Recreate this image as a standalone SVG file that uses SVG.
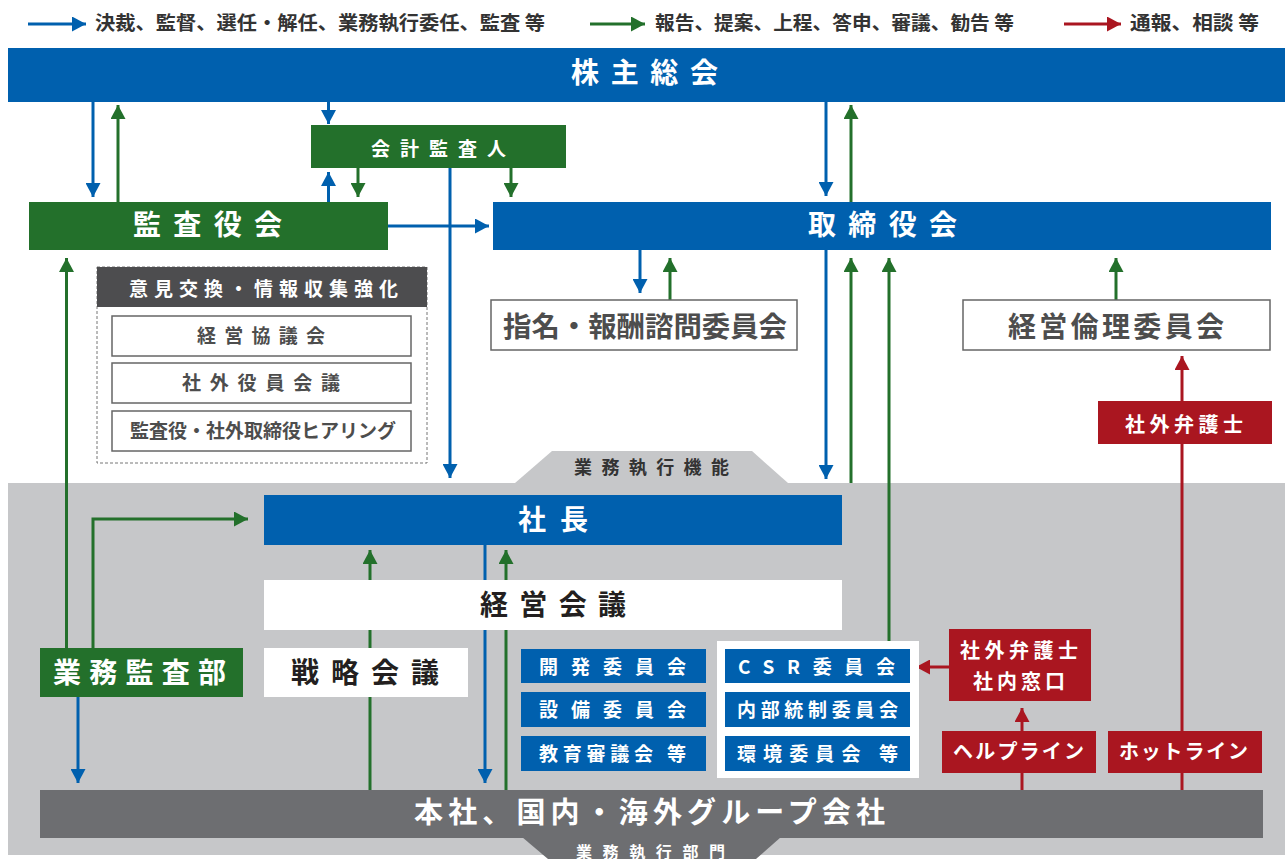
<svg xmlns="http://www.w3.org/2000/svg" width="1285" height="859" viewBox="0 0 1285 859">
<defs>
<style>
text{font-family:"Noto Sans CJK JP","Noto Sans CJK SC",sans-serif;font-weight:700;}
.w{fill:#fff;}
.d{fill:#333;}
.g4{fill:#4d4d4d;}
.k{fill:#231f20;}
.blue{fill:#0060ae;}
.green{fill:#23702b;}
.red{fill:#aa1620;}
.lb{stroke:#0060ae;stroke-width:3;fill:none;marker-end:url(#ab);}
.lg{stroke:#23702b;stroke-width:3;fill:none;marker-end:url(#ag);}
.lr{stroke:#aa1620;stroke-width:3;fill:none;marker-end:url(#ar);}
.lgn{stroke:#23702b;stroke-width:3;fill:none;}
.lrn{stroke:#aa1620;stroke-width:3;fill:none;}
.box{fill:#fff;stroke:#666;stroke-width:1.5;}
</style>
<marker id="ab" markerUnits="userSpaceOnUse" markerWidth="15" markerHeight="15" refX="14" refY="7.5" orient="auto"><path d="M0,0 L14,7.5 L0,15 Z" fill="#0060ae"/></marker>
<marker id="ag" markerUnits="userSpaceOnUse" markerWidth="15" markerHeight="15" refX="14" refY="7.5" orient="auto"><path d="M0,0 L14,7.5 L0,15 Z" fill="#23702b"/></marker>
<marker id="ar" markerUnits="userSpaceOnUse" markerWidth="15" markerHeight="15" refX="14" refY="7.5" orient="auto"><path d="M0,0 L14,7.5 L0,15 Z" fill="#aa1620"/></marker>
</defs>
<rect width="1285" height="859" fill="#fff"/>
<!-- execution area background -->
<rect x="8" y="483" width="1277" height="372" fill="#c6c7c9"/>
<g id="tab-exec">
<polygon points="515,483 552,451 752,451 788,483" fill="#c6c7c9"/>
<text class="d" x="574" y="473.5" font-size="18" textLength="155" lengthAdjust="spacing">業務執行機能</text>
</g>
<g id="legend">
<line x1="28" y1="24" x2="86" y2="24" class="lb"/>
<text class="d" x="95" y="30" font-size="19" font-weight="500" textLength="450" lengthAdjust="spacingAndGlyphs">決裁、監督、選任・解任、業務執行委任、監査 等</text>
<line x1="590" y1="24" x2="645" y2="24" class="lg"/>
<text class="d" x="655" y="30" font-size="19" font-weight="500" textLength="359" lengthAdjust="spacingAndGlyphs">報告、提案、上程、答申、審議、勧告 等</text>
<line x1="1064" y1="24" x2="1121" y2="24" class="lr"/>
<text class="d" x="1130" y="30" font-size="19" font-weight="500" textLength="129" lengthAdjust="spacingAndGlyphs">通報、相談 等</text>
</g>
<g id="connectors">
<line x1="93" y1="102" x2="93" y2="197" class="lb"/>
<line x1="118" y1="202" x2="118" y2="105" class="lg"/>
<line x1="328.5" y1="102" x2="328.5" y2="124" class="lb"/>
<line x1="328.5" y1="202" x2="328.5" y2="172" class="lb"/>
<line x1="358" y1="168" x2="358" y2="197" class="lg"/>
<line x1="511" y1="168" x2="511" y2="197" class="lg"/>
<line x1="450" y1="168" x2="450" y2="478" class="lb"/>
<line x1="388" y1="226" x2="489" y2="226" class="lb"/>
<line x1="826" y1="102" x2="826" y2="196" class="lb"/>
<line x1="851" y1="202" x2="851" y2="105" class="lg"/>
<line x1="640" y1="250" x2="640" y2="293" class="lb"/>
<line x1="670" y1="300" x2="670" y2="258" class="lg"/>
<line x1="1116" y1="300" x2="1116" y2="258" class="lg"/>
<line x1="826" y1="250" x2="826" y2="479" class="lb"/>
<line x1="851" y1="483" x2="851" y2="258" class="lg"/>
<line x1="889" y1="641" x2="889" y2="258" class="lg"/>
<line x1="66.5" y1="648" x2="66.5" y2="258" class="lg"/>
<polyline points="93,648 93,519 248,519" class="lg"/>
<line x1="78" y1="697" x2="78" y2="783" class="lb"/>
<line x1="370" y1="790" x2="370" y2="550" class="lg"/>
<line x1="485" y1="545" x2="485" y2="783" class="lb"/>
<line x1="506" y1="790" x2="506" y2="550" class="lg"/>
<line x1="1182" y1="401" x2="1182" y2="356" class="lr"/>
<line x1="1182" y1="731" x2="1182" y2="444" class="lrn"/>
<line x1="1182" y1="790" x2="1182" y2="773" class="lrn"/>
<line x1="949" y1="667" x2="916" y2="667" class="lr"/>
<line x1="1022" y1="731" x2="1022" y2="708" class="lr"/>
<line x1="1022" y1="790" x2="1022" y2="773" class="lrn"/>
</g>
<g id="shareholders">
<rect x="8" y="48" width="1277" height="54" class="blue"/>
<text class="w" x="571" y="83" font-size="28" textLength="147" lengthAdjust="spacing">株主総会</text>
</g>
<g id="accounting-auditor">
<rect x="311" y="125" width="255" height="43" class="green"/>
<text class="w" x="371" y="155.5" font-size="19" font-weight="500" textLength="135" lengthAdjust="spacing">会計監査人</text>
</g>
<g id="audit-board">
<rect x="29" y="202" width="359" height="48" class="green"/>
<text class="w" x="133" y="235" font-size="28" textLength="149" lengthAdjust="spacing">監査役会</text>
</g>
<g id="board">
<rect x="493" y="202" width="778" height="48" class="blue"/>
<text class="w" x="808" y="235" font-size="28" textLength="149" lengthAdjust="spacing">取締役会</text>
</g>
<g id="nomination-committee">
<rect x="491" y="300" width="306" height="50" class="box"/>
<text class="g4" x="503" y="336.5" font-size="28" textLength="284" lengthAdjust="spacingAndGlyphs">指名・報酬諮問委員会</text>
</g>
<g id="ethics-committee">
<rect x="963" y="300" width="307" height="50" class="box"/>
<text class="g4" x="1008" y="336.5" font-size="28" textLength="216" lengthAdjust="spacing">経営倫理委員会</text>
</g>
<g id="info-exchange">
<rect x="97" y="267" width="330" height="196" fill="none" stroke="#777" stroke-width="1" stroke-dasharray="3,2"/>
<rect x="97" y="267" width="330" height="40" fill="#4d4d4f"/>
<text class="w" x="129" y="295.5" font-size="19" font-weight="500" textLength="269" lengthAdjust="spacing">意見交換・情報収集強化</text>
</g>
<g id="mgmt-council">
<rect x="112" y="316" width="299" height="40" class="box"/>
<text class="g4" x="197" y="343" font-size="19" textLength="128" lengthAdjust="spacing">経営協議会</text>
</g>
<g id="outside-officers">
<rect x="112" y="363" width="299" height="40" class="box"/>
<text class="g4" x="182" y="390" font-size="19" textLength="158" lengthAdjust="spacing">社外役員会議</text>
</g>
<g id="hearing">
<rect x="112" y="411" width="299" height="40" class="box"/>
<text class="g4" x="130" y="438" font-size="19" textLength="266" lengthAdjust="spacingAndGlyphs">監査役・社外取締役ヒアリング</text>
</g>
<g id="president">
<rect x="264" y="495" width="578" height="50" class="blue"/>
<text class="w" x="518" y="530" font-size="28" textLength="70" lengthAdjust="spacing">社長</text>
</g>
<g id="mgmt-meeting">
<rect x="264" y="580" width="578" height="50" fill="#fff"/>
<text class="k" x="480" y="615" font-size="28" textLength="146" lengthAdjust="spacing">経営会議</text>
</g>
<g id="strategy-meeting">
<rect x="264" y="648" width="204" height="49" fill="#fff"/>
<text class="k" x="291" y="683" font-size="28" textLength="148" lengthAdjust="spacing">戦略会議</text>
</g>
<g id="internal-audit">
<rect x="40" y="648" width="203" height="49" class="green"/>
<text class="w" x="53" y="683" font-size="28" textLength="173" lengthAdjust="spacing">業務監査部</text>
</g>
<g id="dev-committee">
<rect x="521" y="649" width="185" height="34" class="blue"/>
<text class="w" x="539" y="674" font-size="19" textLength="147" lengthAdjust="spacing">開発委員会</text>
</g>
<g id="equip-committee">
<rect x="521" y="692" width="185" height="35" class="blue"/>
<text class="w" x="539" y="716.5" font-size="19" textLength="147" lengthAdjust="spacing">設備委員会</text>
</g>
<g id="edu-council">
<rect x="521" y="736" width="185" height="35" class="blue"/>
<text class="w" x="539" y="760.5" font-size="19" textLength="147" lengthAdjust="spacing">教育審議会 等</text>
</g>
<g id="csr-group">
<rect x="717" y="641" width="202" height="137" fill="#fff"/>
</g>
<g id="csr-committee">
<rect x="725" y="649" width="185" height="34" class="blue"/>
<text class="w" x="738" y="674" font-size="19" font-weight="500" textLength="157" lengthAdjust="spacing">CSR委員会</text>
</g>
<g id="internal-control">
<rect x="725" y="692" width="185" height="35" class="blue"/>
<text class="w" x="737" y="716.5" font-size="19" textLength="161" lengthAdjust="spacing">内部統制委員会</text>
</g>
<g id="env-committee">
<rect x="725" y="736" width="185" height="35" class="blue"/>
<text class="w" x="737" y="760.5" font-size="19" textLength="161" lengthAdjust="spacing">環境委員会 等</text>
</g>
<g id="outside-lawyer">
<rect x="1098" y="401" width="174" height="43" class="red"/>
<text class="w" x="1125" y="432" font-size="20" textLength="118" lengthAdjust="spacing">社外弁護士</text>
</g>
<g id="lawyer-internal">
<rect x="949" y="629" width="142" height="72" class="red"/>
<text class="w" x="960" y="658" font-size="20" textLength="118" lengthAdjust="spacing">社外弁護士</text>
<text class="w" x="973" y="688.5" font-size="20" textLength="92" lengthAdjust="spacing">社内窓口</text>
</g>
<g id="helpline">
<rect x="942" y="731" width="154" height="42" class="red"/>
<text class="w" x="953" y="759" font-size="20" textLength="131" lengthAdjust="spacing">ヘルプライン</text>
</g>
<g id="hotline">
<rect x="1108" y="731" width="154" height="42" class="red"/>
<text class="w" x="1119" y="759" font-size="20" textLength="129" lengthAdjust="spacing">ホットライン</text>
</g>
<g id="group-companies">
<rect x="40" y="790" width="1223" height="48" fill="#6d6e71"/>
<polygon points="522,837 781,837 756,859 548,859" fill="#6d6e71"/>
<text class="w" x="414" y="823" font-size="29" textLength="471" lengthAdjust="spacing">本社、国内・海外グループ会社</text>
<text class="w" x="576" y="858" font-size="16" font-weight="500" textLength="149" lengthAdjust="spacing">業務執行部門</text>
</g>
</svg>
